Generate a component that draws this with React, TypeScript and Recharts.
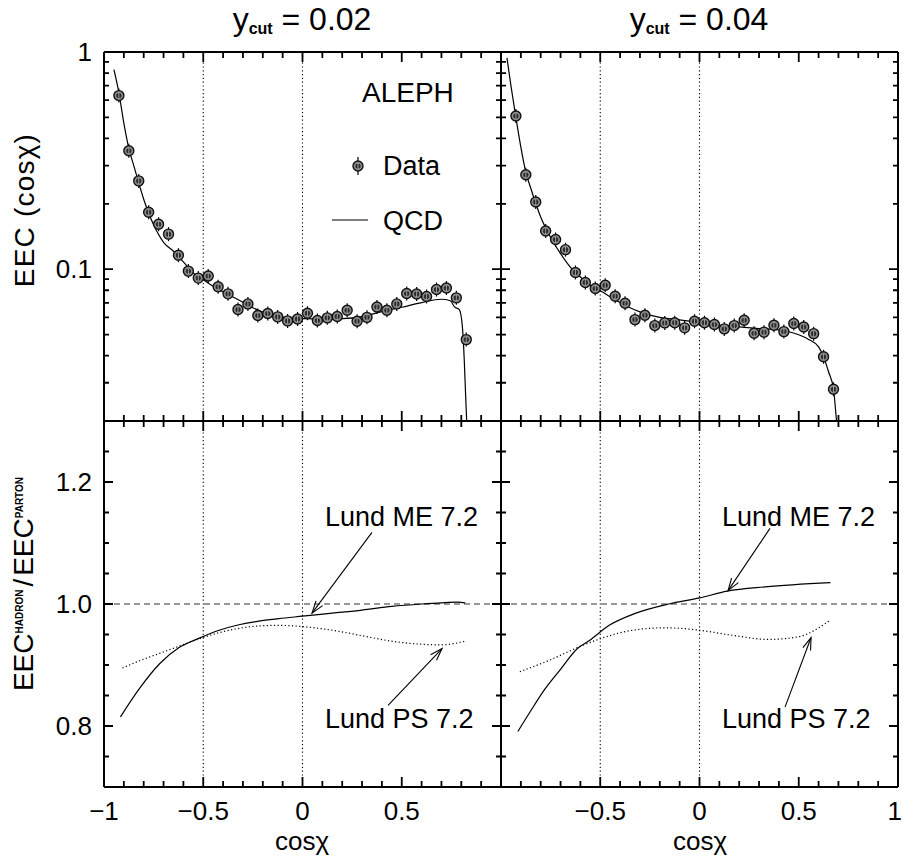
import { ComposedChart, Line, Scatter, XAxis, YAxis, ReferenceLine } from "recharts"

const FONT = '"Liberation Sans", Arial, Helvetica, sans-serif'
const W = 903
const H = 857
const AX = 20

// EEC data, y_cut = 0.02 (bin centres in cos chi)
const binsL = [
  -0.925, -0.875, -0.825, -0.775, -0.725, -0.675, -0.625, -0.575, -0.525, -0.475, -0.425, -0.375,
  -0.325, -0.275, -0.225, -0.175, -0.125, -0.075, -0.025, 0.025, 0.075, 0.125, 0.175, 0.225,
  0.275, 0.325, 0.375, 0.425, 0.475, 0.525, 0.575, 0.625, 0.675, 0.725, 0.775, 0.825,
]
const eecL = [
  0.63, 0.351, 0.255, 0.183, 0.161, 0.145, 0.116, 0.098, 0.091, 0.093, 0.083, 0.077,
  0.0652, 0.0692, 0.0612, 0.0625, 0.0603, 0.0578, 0.059, 0.0627, 0.058, 0.0597, 0.0606, 0.0647,
  0.0576, 0.06, 0.067, 0.0647, 0.0692, 0.0773, 0.0769, 0.0749, 0.0806, 0.0819, 0.0738, 0.0474,
]
const qcdCosL = [
  -0.95, -0.925, -0.9, -0.875, -0.85, -0.8, -0.75, -0.7, -0.65, -0.6, -0.55, -0.5, -0.45, -0.4,
  -0.35, -0.3, -0.25, -0.2, -0.15, -0.1, -0.05, 0, 0.1, 0.2, 0.3, 0.4, 0.5, 0.6, 0.7, 0.745,
  0.765, 0.79, 0.805, 0.815, 0.822, 0.827,
]
const qcdL = [
  0.83, 0.65, 0.47, 0.36, 0.3, 0.21, 0.16, 0.133, 0.121, 0.108, 0.096, 0.0895, 0.0835, 0.0785,
  0.0745, 0.0705, 0.0665, 0.0635, 0.0612, 0.0602, 0.0596, 0.0592, 0.059, 0.0592, 0.0605, 0.0638,
  0.0668, 0.0702, 0.0727, 0.0716, 0.0672, 0.0652, 0.055, 0.038, 0.026, 0.0201,
]

// EEC data, y_cut = 0.04
const binsR = [
  -0.925, -0.875, -0.825, -0.775, -0.725, -0.675, -0.625, -0.575, -0.525, -0.475, -0.425,
  -0.375, -0.325, -0.275, -0.225, -0.175, -0.125, -0.075, -0.025, 0.025, 0.075, 0.125,
  0.175, 0.225, 0.275, 0.325, 0.375, 0.425, 0.475, 0.525, 0.575, 0.625, 0.675,
]
const eecR = [
  0.507, 0.272, 0.204, 0.15, 0.137, 0.123, 0.0966, 0.0869, 0.0815, 0.0844, 0.0751,
  0.0697, 0.0586, 0.0614, 0.055, 0.0566, 0.0567, 0.0537, 0.0576, 0.0567, 0.0556, 0.0531,
  0.055, 0.0582, 0.0507, 0.0513, 0.0552, 0.0516, 0.0562, 0.0542, 0.0505, 0.0395, 0.028,
]
const qcdCosR = [
  -0.97, -0.95, -0.925, -0.9, -0.875, -0.85, -0.8, -0.75, -0.7, -0.65, -0.6, -0.55, -0.5,
  -0.45, -0.4, -0.35, -0.3, -0.25, -0.2, -0.1, 0, 0.1, 0.2, 0.3, 0.4, 0.45, 0.5, 0.55, 0.6,
  0.625, 0.65, 0.675, 0.69,
]
const qcdR = [
  0.94, 0.7, 0.5, 0.365, 0.28, 0.236, 0.174, 0.14, 0.118, 0.102, 0.092, 0.084, 0.0795,
  0.0747, 0.0702, 0.0665, 0.0636, 0.0614, 0.06, 0.0584, 0.0569, 0.0552, 0.0542, 0.0533, 0.0525,
  0.0515, 0.0499, 0.0475, 0.0439, 0.0395, 0.0337, 0.028, 0.0201,
]

// hadronisation ratios
const meCosL = [-0.917, -0.82, -0.72, -0.62, -0.52, -0.42, -0.32, -0.22, -0.12, 0, 0.15, 0.3, 0.45, 0.6, 0.7, 0.78, 0.82]
const meL = [0.815, 0.862, 0.902, 0.929, 0.944, 0.957, 0.966, 0.972, 0.976, 0.98, 0.985, 0.99, 0.996, 1.0, 1.002, 1.003, 1.002]
const psCosL = [-0.907, -0.82, -0.72, -0.62, -0.52, -0.42, -0.32, -0.22, -0.12, 0, 0.15, 0.3, 0.45, 0.6, 0.7, 0.82]
const psL = [0.895, 0.907, 0.919, 0.931, 0.943, 0.953, 0.96, 0.964, 0.965, 0.963, 0.957, 0.948, 0.939, 0.934, 0.933, 0.939]
const meCosR = [-0.915, -0.85, -0.78, -0.7, -0.615, -0.555, -0.455, -0.32, -0.155, 0, 0.14, 0.33, 0.66]
const meR = [0.791, 0.825, 0.86, 0.893, 0.927, 0.94, 0.965, 0.985, 1.0, 1.01, 1.021, 1.028, 1.035]
const psCosR = [-0.905, -0.755, -0.59, -0.5, -0.355, -0.17, 0, 0.16, 0.345, 0.495, 0.58, 0.66]
const psR = [0.889, 0.908, 0.932, 0.943, 0.956, 0.961, 0.957, 0.949, 0.942, 0.946, 0.957, 0.974]

// ticks
const X_TICKS = [-1, -0.9, -0.8, -0.7, -0.6, -0.5, -0.4, -0.3, -0.2, -0.1, 0, 0.1, 0.2, 0.3, 0.4, 0.5, 0.6, 0.7, 0.8, 0.9, 1]
const X_MAJOR = [-1, -0.5, 0, 0.5, 1]
const X_LABELS_L = [-1, -0.5, 0, 0.5]
const X_LABELS_R = [-0.5, 0, 0.5, 1]
const LOG_TICKS = [0.02, 0.03, 0.04, 0.05, 0.06, 0.07, 0.08, 0.09, 0.1, 0.2, 0.3, 0.4, 0.5, 0.6, 0.7, 0.8, 0.9, 1]
const LOG_LABELS = [0.1, 1]
const RATIO_TICKS = [0.7, 0.75, 0.8, 0.85, 0.9, 0.95, 1.0, 1.05, 1.1, 1.15, 1.2, 1.25, 1.3]
const RATIO_LABELS = [0.8, 1.0, 1.2]
const V_LINES = [-0.5, 0]

// arrows for the model labels (tail -> head, data coordinates)
const arrowsL = [
  { from: { x: 0.35, y: 1.1175 }, to: { x: 0.048, y: 0.985 } },
  { from: { x: 0.431, y: 0.834 }, to: { x: 0.703, y: 0.927 } },
]
const arrowsR = [
  { from: { x: 0.355, y: 1.124 }, to: { x: 0.144, y: 1.022 } },
  { from: { x: 0.431, y: 0.831 }, to: { x: 0.562, y: 0.945 } },
]

const pts = (xs: number[], ys: number[]) => xs.map((x, i) => ({ x, y: ys[i] }))
const near = (a: number[], v: number) => a.some((m) => Math.abs(m - v) < 1e-9)
const fmtX = (v: number) => (v < 0 ? "\u2212" + Math.abs(v) : String(v))

// plot boxes in page pixels
const COL_L = 104
const COL_R = 501
const COL_W = 397
const ROW_T = 52
const ROW_TH = 369
const ROW_B = 421
const ROW_BH = 366

function boxProps(left: number, top: number, width: number, height: number) {
  return {
    width: W,
    height: H,
    margin: { left: left - AX, top, right: W - left - width, bottom: H - top - height - AX },
  }
}

function makeXLabel(labels: number[]) {
  return (props: any) => {
    const x = Number(props.x)
    const y = Number(props.y)
    const v = Number(props.payload.value)
    if (!near(labels, v)) return <g />
    const edge = x > W - 8
    return (
      <text
        x={edge ? W - 1 : x}
        y={y + 33}
        textAnchor={edge ? "end" : "middle"}
        fontSize={26}
        fontFamily={FONT}
        fill="#000"
      >
        {fmtX(v)}
      </text>
    )
  }
}

function makeYLabel(labels: number[], fmt: (v: number) => string) {
  return (props: any) => {
    const x = Number(props.x)
    const y = Number(props.y)
    const v = Number(props.payload.value)
    if (!near(labels, v)) return <g />
    return (
      <text x={x - 12} y={y + 9} textAnchor="end" fontSize={26} fontFamily={FONT} fill="#000">
        {fmt(v)}
      </text>
    )
  }
}

// inward tick marks on all four frames (same mapping as the chart boxes above)
const xPx = (left: number, v: number) => left + ((v + 1) / 2) * COL_W
const logPx = (v: number) => ROW_T + (-Math.log10(v) / -Math.log10(0.02)) * ROW_TH
const ratioPx = (v: number) => ROW_B + ((1.3 - v) / 0.6) * ROW_BH

function tickPath() {
  let d = ""
  for (const left of [COL_L, COL_R]) {
    for (const [top, h] of [
      [ROW_T, ROW_TH],
      [ROW_B, ROW_BH],
    ]) {
      for (const v of X_TICKS) {
        const x = xPx(left, v)
        const len = near(X_MAJOR, v) ? 10 : 6
        d += `M${x},${top + h}V${top + h - len}M${x},${top}V${top + len}`
      }
    }
    for (const v of LOG_TICKS) {
      const y = logPx(v)
      const len = near(LOG_LABELS, v) ? 9 : 5
      d += `M${left},${y}H${left + len}M${left + COL_W},${y}H${left + COL_W - len}`
    }
    for (const v of RATIO_TICKS) {
      const y = ratioPx(v)
      const len = near(RATIO_LABELS, v) ? 9 : 5
      d += `M${left},${y}H${left + len}M${left + COL_W},${y}H${left + COL_W - len}`
    }
  }
  return d
}

// four edges of a panel
function frame(y0: number, y1: number) {
  return [
    <ReferenceLine key="fl" x={-1} stroke="#000" strokeWidth={2} ifOverflow="visible" />,
    <ReferenceLine key="fr" x={1} stroke="#000" strokeWidth={2} ifOverflow="visible" />,
    <ReferenceLine key="fb" y={y0} stroke="#000" strokeWidth={2} ifOverflow="visible" />,
    <ReferenceLine key="ft" y={y1} stroke="#000" strokeWidth={2} ifOverflow="visible" />,
  ]
}

const DataMark = (props: any) => {
  const { cx, cy } = props
  const bar = props.bar ?? 7
  if (cx == null || cy == null) return null
  return (
    <g>
      <line x1={cx} x2={cx} y1={cy - bar} y2={cy + bar} stroke="#000" strokeWidth={1.2} />
      <circle cx={cx} cy={cy} r={5} fill="#8c8c8c" stroke="#111" strokeWidth={1.4} />
      <circle cx={cx} cy={cy} r={2.6} fill="#2a2a2a" />
      <line x1={cx} x2={cx} y1={cy - 3} y2={cy + 3} stroke="#bbb" strokeWidth={0.8} />
    </g>
  )
}

const Arrow = (props: any) => {
  const x1 = Number(props.x1)
  const y1 = Number(props.y1)
  const x2 = Number(props.x2)
  const y2 = Number(props.y2)
  const ang = Math.atan2(y2 - y1, x2 - x1)
  const L = 13
  const w = 0.32
  const a = [x2 - L * Math.cos(ang - w), y2 - L * Math.sin(ang - w)]
  const b = [x2 - L * Math.cos(ang + w), y2 - L * Math.sin(ang + w)]
  return (
    <g>
      <line x1={x1} y1={y1} x2={x2} y2={y2} stroke="#000" strokeWidth={1.1} />
      <polyline points={`${a[0]},${a[1]} ${x2},${y2} ${b[0]},${b[1]}`} fill="none" stroke="#000" strokeWidth={1.1} />
    </g>
  )
}

const fmtLog = (v: number) => String(v)
const fmtRatio = (v: number) => v.toFixed(1)

function EecPanel({ left, bins, eec, qcdCos, qcd, yLabels }: any) {
  return (
    <div style={{ position: "absolute", left: 0, top: 0 }}>
      <ComposedChart {...boxProps(left, ROW_T, COL_W, ROW_TH)}>
        <XAxis
          type="number"
          dataKey="x"
          domain={[-1, 1]}
          ticks={X_TICKS}
          interval={0}
          allowDataOverflow
          height={AX}
          tickSize={0}
          tickMargin={0}
          axisLine={false}
          tickLine={false}
          tick={makeXLabel([])}
        />
        <YAxis
          type="number"
          dataKey="y"
          scale="log"
          domain={[0.02, 1]}
          ticks={LOG_TICKS}
          interval={0}
          allowDataOverflow
          width={AX}
          tickSize={0}
          tickMargin={0}
          axisLine={false}
          tickLine={false}
          tick={makeYLabel(yLabels, fmtLog)}
        />
        {V_LINES.map((v) => (
          <ReferenceLine key={v} x={v} stroke="#000" strokeWidth={1.1} strokeDasharray="1.2 2.6" />
        ))}
        <Line
          data={pts(qcdCos, qcd)}
          dataKey="y"
          type="monotone"
          stroke="#000"
          strokeWidth={1.2}
          dot={false}
          isAnimationActive={false}
        />
        <Scatter data={pts(bins, eec)} dataKey="y" shape={DataMark} isAnimationActive={false} />
        {frame(0.02, 1)}
      </ComposedChart>
    </div>
  )
}

function RatioPanel({ left, meCos, me, psCos, ps, xLabels, yLabels, arrows }: any) {
  return (
    <div style={{ position: "absolute", left: 0, top: 0 }}>
      <ComposedChart {...boxProps(left, ROW_B, COL_W, ROW_BH)}>
        <XAxis
          type="number"
          dataKey="x"
          domain={[-1, 1]}
          ticks={X_TICKS}
          interval={0}
          allowDataOverflow
          height={AX}
          tickSize={0}
          tickMargin={0}
          axisLine={false}
          tickLine={false}
          tick={makeXLabel(xLabels)}
        />
        <YAxis
          type="number"
          dataKey="y"
          domain={[0.7, 1.3]}
          ticks={RATIO_TICKS}
          interval={0}
          allowDataOverflow
          width={AX}
          tickSize={0}
          tickMargin={0}
          axisLine={false}
          tickLine={false}
          tick={makeYLabel(yLabels, fmtRatio)}
        />
        {V_LINES.map((v) => (
          <ReferenceLine key={v} x={v} stroke="#000" strokeWidth={1.1} strokeDasharray="1.2 2.6" />
        ))}
        <ReferenceLine y={1} stroke="#333" strokeWidth={1.2} strokeDasharray="6 4" />
        <Line
          data={pts(meCos, me)}
          dataKey="y"
          type="monotone"
          stroke="#000"
          strokeWidth={1.2}
          dot={false}
          isAnimationActive={false}
        />
        <Line
          data={pts(psCos, ps)}
          dataKey="y"
          type="monotone"
          stroke="#000"
          strokeWidth={1.2}
          strokeDasharray="1.2 2.4"
          dot={false}
          isAnimationActive={false}
        />
        {arrows.map((a: any, i: number) => (
          <ReferenceLine key={"a" + i} segment={[a.from, a.to]} shape={Arrow} ifOverflow="visible" />
        ))}
        {frame(0.7, 1.3)}
      </ComposedChart>
    </div>
  )
}

export default function App() {
  return (
    <div style={{ position: "absolute", left: 0, top: 0, width: W, height: H, background: "#fff" }}>
      <EecPanel left={COL_L} bins={binsL} eec={eecL} qcdCos={qcdCosL} qcd={qcdL} yLabels={LOG_LABELS} />
      <EecPanel left={COL_R} bins={binsR} eec={eecR} qcdCos={qcdCosR} qcd={qcdR} yLabels={[]} />
      <RatioPanel
        left={COL_L}
        meCos={meCosL}
        me={meL}
        psCos={psCosL}
        ps={psL}
        xLabels={X_LABELS_L}
        yLabels={RATIO_LABELS}
        arrows={arrowsL}
      />
      <RatioPanel
        left={COL_R}
        meCos={meCosR}
        me={meR}
        psCos={psCosR}
        ps={psR}
        xLabels={X_LABELS_R}
        yLabels={[]}
        arrows={arrowsR}
      />
      <svg
        width={W}
        height={H}
        style={{ position: "absolute", left: 0, top: 0, pointerEvents: "none" }}
        fontFamily={FONT}
        fill="#000"
      >
        <path d={tickPath()} stroke="#000" strokeWidth={1.8} fill="none" />

        <text x={302} y={30} textAnchor="middle" fontSize={32}>
          y
          <tspan fontSize={16} fontWeight="bold" dy={4}>cut</tspan>
          <tspan dy={-4}> = 0.02</tspan>
        </text>
        <text x={699} y={30} textAnchor="middle" fontSize={32}>
          y
          <tspan fontSize={16} fontWeight="bold" dy={4}>cut</tspan>
          <tspan dy={-4}> = 0.04</tspan>
        </text>
        <text transform="translate(34,210) rotate(-90)" textAnchor="middle" fontSize={28} letterSpacing={1.2}>
          EEC (cosχ)
        </text>
        <text transform="translate(33,584) rotate(-90)" textAnchor="middle" fontSize={28}>
          EEC
          <tspan fontSize={10} fontWeight="bold" dy={-10}>HADRON</tspan>
          <tspan dy={10} dx={3}>/</tspan>
          <tspan dx={3}>EEC</tspan>
          <tspan fontSize={10} fontWeight="bold" dy={-10}>PARTON</tspan>
        </text>
        <text x={302} y={850} textAnchor="middle" fontSize={26}>cosχ</text>
        <text x={700} y={850} textAnchor="middle" fontSize={26}>cosχ</text>

        <text x={362} y={102} fontSize={28}>ALEPH</text>
        <DataMark cx={358} cy={166} bar={9} />
        <text x={383} y={175} fontSize={27}>Data</text>
        <line x1={332} x2={368} y1={220} y2={220} stroke="#000" strokeWidth={1.2} />
        <text x={383} y={230} fontSize={27}>QCD</text>

        <text x={325} y={526} fontSize={27}>Lund ME 7.2</text>
        <text x={722} y={526} fontSize={27}>Lund ME 7.2</text>
        <text x={325} y={728} fontSize={27}>Lund PS 7.2</text>
        <text x={722} y={728} fontSize={27}>Lund PS 7.2</text>
      </svg>
    </div>
  )
}
